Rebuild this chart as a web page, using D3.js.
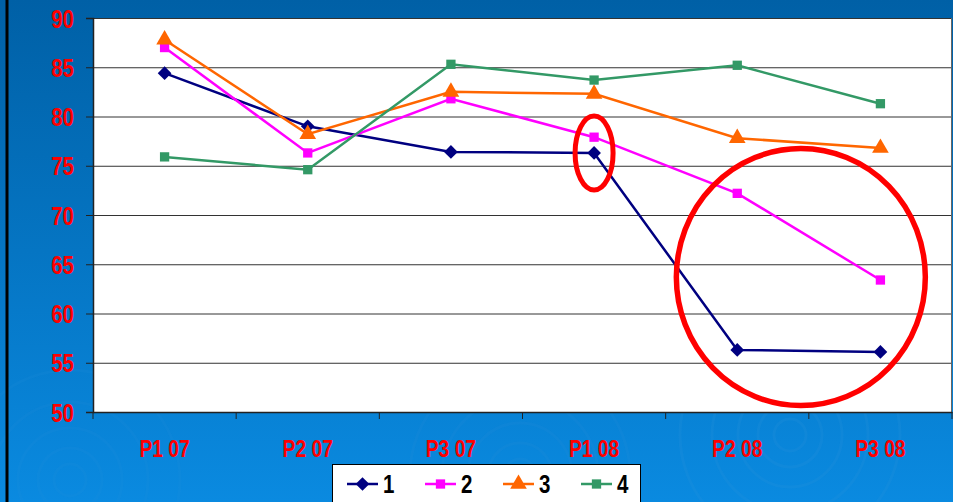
<!DOCTYPE html>
<html>
<head>
<meta charset="utf-8">
<script src="https://cdn.jsdelivr.net/npm/d3@7"></script>
<style>
  html, body { margin: 0; padding: 0; overflow: hidden; }
  svg { display: block; font-family: "Liberation Sans", Arial, sans-serif; }
</style>
</head>
<body>
<script>
// line chart, 4 series over 6 periods
var categories = ["P1 07", "P2 07", "P3 07", "P1 08", "P2 08", "P3 08"];
var seriesNames = ["1", "2", "3", "4"];
var series1 = [84.4, 79.0, 76.4, 76.3, 56.3, 56.1];
var series2 = [87.0, 76.3, 81.8, 77.9, 72.2, 63.4];
var series3 = [87.8, 78.2, 82.5, 82.3, 77.8, 76.8];
var series4 = [75.9, 74.6, 85.3, 83.7, 85.2, 81.3];
var yTicks = [50, 55, 60, 65, 70, 75, 80, 85, 90];

(function() {
  var width = 953, height = 502;
  var plotLeft = 93, plotRight = 952, plotTop = 18, plotBottom = 412;
  var squeeze = 0.82;   // narrow bold look

  var svg = d3.select("body").append("svg")
      .attr("width", width)
      .attr("height", height);

  // background
  var defs = svg.append("defs");
  var grad = defs.append("linearGradient").attr("id", "bg")
      .attr("x1", 0).attr("y1", 0).attr("x2", 0).attr("y2", 1);
  grad.append("stop").attr("offset", "0%").attr("stop-color", "#0060a6");
  grad.append("stop").attr("offset", "100%").attr("stop-color", "#0a8ae0");
  svg.append("rect").attr("width", width).attr("height", height).attr("fill", "url(#bg)");

  // faint ripples
  [[790, 435, 1], [520, 475, 0.8], [70, 480, 0.5]].forEach(function(c) {
    [16, 32, 52, 78, 110].forEach(function(r) {
      svg.append("circle")
          .attr("cx", c[0]).attr("cy", c[1]).attr("r", r)
          .attr("fill", "none")
          .attr("stroke", "#2a90da")
          .attr("stroke-opacity", 0.22 * c[2])
          .attr("stroke-width", 3);
    });
  });

  svg.append("line")
      .attr("x1", 7).attr("x2", 7).attr("y1", 0).attr("y2", height)
      .attr("stroke", "#000").attr("stroke-width", 3);

  var x = d3.scaleBand().domain(categories).range([plotLeft, plotRight]);
  var y = d3.scaleLinear().domain([50, 90]).range([plotBottom, plotTop]);

  svg.append("rect")
      .attr("x", plotLeft).attr("y", plotTop)
      .attr("width", plotRight - plotLeft).attr("height", plotBottom - plotTop)
      .attr("fill", "#fff");

  // gridlines
  svg.append("g").selectAll("line")
      .data(yTicks.slice(1))
      .enter().append("line")
      .attr("x1", plotLeft).attr("x2", plotRight)
      .attr("y1", function(d) { return y(d) + 0.5; })
      .attr("y2", function(d) { return y(d) + 0.5; })
      .attr("stroke", "#333").attr("stroke-width", 1);

  svg.append("line")
      .attr("x1", plotRight - 0.5).attr("x2", plotRight - 0.5)
      .attr("y1", plotTop).attr("y2", plotBottom)
      .attr("stroke", "#666");

  // y axis
  var yAxis = svg.append("g")
      .attr("transform", "translate(" + plotLeft + ",0)")
      .call(d3.axisLeft(y).tickValues(yTicks).tickSize(7).tickPadding(12));
  yAxis.select(".domain").attr("stroke", "#222").attr("stroke-width", 1.5);
  yAxis.selectAll(".tick line").attr("stroke", "#222");
  yAxis.selectAll(".tick text")
      .attr("fill", "#ff0000")
      .attr("font-size", 25)
      .attr("font-weight", "bold")
      .attr("font-family", "'Liberation Sans', Arial, sans-serif")
      .attr("dy", "0.36em")
      .attr("transform", "scale(" + squeeze + ",1)")
      .attr("x", -19 / squeeze);

  // x axis
  var xAxis = svg.append("g")
      .attr("transform", "translate(0," + plotBottom + ")")
      .call(d3.axisBottom(x).tickSize(0).tickFormat(""));
  xAxis.select(".domain").attr("stroke", "#222").attr("stroke-width", 1.5);
  var bounds = categories.map(function(c) { return x(c); }).concat([plotRight]);
  svg.append("g").selectAll("line")
      .data(bounds)
      .enter().append("line")
      .attr("x1", function(d) { return d; }).attr("x2", function(d) { return d; })
      .attr("y1", plotBottom).attr("y2", plotBottom + 7)
      .attr("stroke", "#222");
  svg.append("g").selectAll("text")
      .data(categories)
      .enter().append("text")
      .attr("transform", function(d) {
        return "translate(" + (x(d) + x.bandwidth() / 2) + "," + (plotBottom + 45) + ") scale(" + squeeze + ",1)";
      })
      .attr("text-anchor", "middle")
      .attr("fill", "#ff0000")
      .attr("font-size", 23.5)
      .attr("font-weight", "bold")
      .text(function(d) { return d; });

  var allSeries = [
    { name: seriesNames[0], values: series1, color: "#000080", shape: d3.symbolDiamond2, size: 120 },
    { name: seriesNames[1], values: series2, color: "#ff00ff", shape: d3.symbolSquare2, size: 110 },
    { name: seriesNames[2], values: series3, color: "#ff6600", shape: d3.symbolTriangle, size: 120 },
    { name: seriesNames[3], values: series4, color: "#339966", shape: d3.symbolSquare2, size: 110 }
  ];

  var cx = function(i) { return x(categories[i]) + x.bandwidth() / 2; };
  var line = d3.line()
      .x(function(d, i) { return cx(i); })
      .y(function(d) { return y(d); });

  allSeries.forEach(function(s) {
    svg.append("path")
        .datum(s.values)
        .attr("d", line)
        .attr("fill", "none")
        .attr("stroke", s.color)
        .attr("stroke-width", 2.5);
    svg.append("g").selectAll("path")
        .data(s.values)
        .enter().append("path")
        .attr("d", d3.symbol().type(s.shape).size(s.size))
        .attr("transform", function(d, i) { return "translate(" + cx(i) + "," + y(d) + ")"; })
        .attr("fill", s.color);
  });

  // red annotation rings
  svg.append("ellipse")
      .attr("cx", cx(3))
      .attr("cy", (y(series1[3]) + y(series2[3])) / 2 + 8)
      .attr("rx", 19).attr("ry", 37)
      .attr("fill", "none").attr("stroke", "#ff0000").attr("stroke-width", 5);
  svg.append("ellipse")
      .attr("cx", (cx(4) + cx(5)) / 2 - 8)
      .attr("cy", y(63.7))
      .attr("rx", 124.5).attr("ry", 128.5)
      .attr("fill", "none").attr("stroke", "#ff0000").attr("stroke-width", 5.5);

  // legend
  var legend = svg.append("g").attr("transform", "translate(332,464)");
  legend.append("rect")
      .attr("x", 0.5).attr("y", 0.5)
      .attr("width", 308).attr("height", 50)
      .attr("fill", "#fff").attr("stroke", "#000");
  allSeries.forEach(function(s, i) {
    var g = legend.append("g").attr("transform", "translate(" + (15 + i * 78) + ",20)");
    g.append("line").attr("x1", 0).attr("x2", 31).attr("y1", 0).attr("y2", 0)
        .attr("stroke", s.color).attr("stroke-width", 2.5);
    g.append("path")
        .attr("d", d3.symbol().type(s.shape).size(s.size))
        .attr("transform", "translate(15.5,0)")
        .attr("fill", s.color);
    g.append("text")
        .attr("transform", "translate(36,9) scale(" + squeeze + ",1)")
        .attr("font-size", 25).attr("font-weight", "bold")
        .attr("fill", "#000")
        .text(s.name);
  });
})();
</script>
</body>
</html>
